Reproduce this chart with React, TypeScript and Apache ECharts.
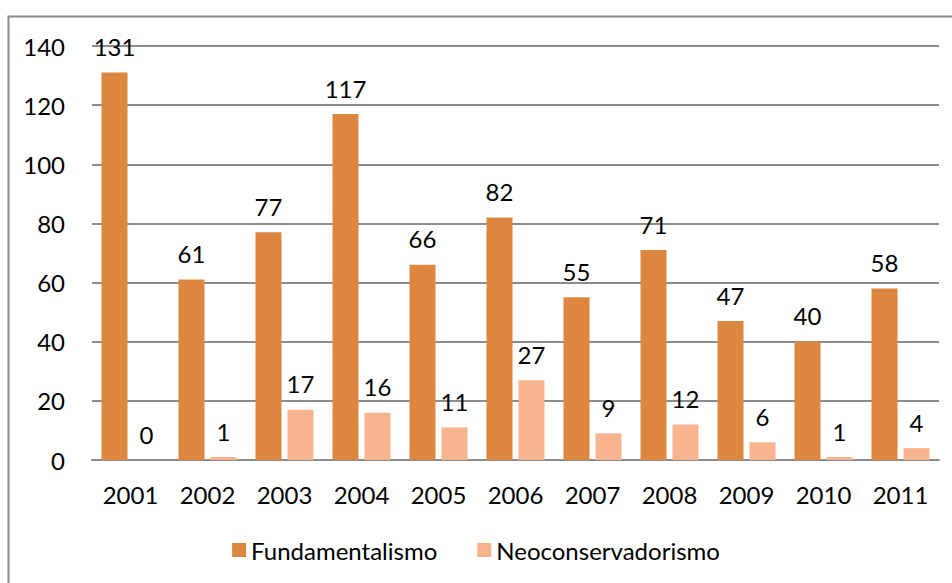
import React, { useEffect, useRef } from "react";
import * as echarts from "echarts";

const years = ["2001", "2002", "2003", "2004", "2005", "2006", "2007", "2008", "2009", "2010", "2011"];
const fundamentalismo = [131, 61, 77, 117, 66, 82, 55, 71, 47, 40, 58];
const neoconservadorismo = [0, 1, 17, 16, 11, 27, 9, 12, 6, 1, 4];
const seriesNames = ["Fundamentalismo", "Neoconservadorismo"];

const FONT = "Lato, 'Open Sans', sans-serif";
const FS = 24;

export default function App() {
  const ref = useRef<HTMLDivElement>(null);
  useEffect(() => {
    if (!ref.current) return;
    const chart = echarts.init(ref.current, undefined, { renderer: "svg" });
    const label = {
      show: true,
      position: "top" as const,
      distance: 14,
      color: "#000",
      fontSize: FS,
      fontFamily: FONT,
    };
    chart.setOption({
      animation: false,
      backgroundColor: "#fff",
      graphic: [
        {
          type: "rect",
          shape: { x: 8.5, y: 16.5, width: 1200, height: 1000 },
          style: { fill: "none", stroke: "#8a8a8a", lineWidth: 2 },
          silent: true,
          z: -1,
        },
      ],
      grid: { left: 92, right: 13, top: 46, bottom: 123, containLabel: false },
      legend: {
        data: seriesNames,
        bottom: 16,
        left: "center",
        itemWidth: 14,
        itemHeight: 14,
        itemGap: 40,
        icon: "rect",
        textStyle: { fontSize: FS, fontFamily: FONT, color: "#000" },
      },
      xAxis: {
        type: "category",
        data: years,
        axisLine: { lineStyle: { color: "#8c8c8c", width: 2 } },
        axisTick: { show: false },
        axisLabel: { fontSize: FS, fontFamily: FONT, color: "#000", margin: 22 },
      },
      yAxis: {
        type: "value",
        min: 0,
        max: 140,
        interval: 20,
        axisLine: { show: false },
        axisTick: { show: false },
        axisLabel: { fontSize: FS, fontFamily: FONT, color: "#000", margin: 27 },
        splitLine: { lineStyle: { color: "#8c8c8c", width: 2 } },
      },
      series: [
        {
          name: seriesNames[0],
          type: "bar",
          data: fundamentalismo,
          barWidth: 26,
          barGap: "23%",
          itemStyle: { color: "#DD8640" },
          label,
        },
        {
          name: seriesNames[1],
          type: "bar",
          data: neoconservadorismo,
          barWidth: 26,
          barGap: "23%",
          itemStyle: { color: "#F8B48E" },
          label,
        },
      ],
    });
    return () => chart.dispose();
  }, []);
  return (
    <div
      ref={ref}
      style={{ position: "fixed", left: 0, top: 0, width: 952, height: 583 }}
    />
  );
}
